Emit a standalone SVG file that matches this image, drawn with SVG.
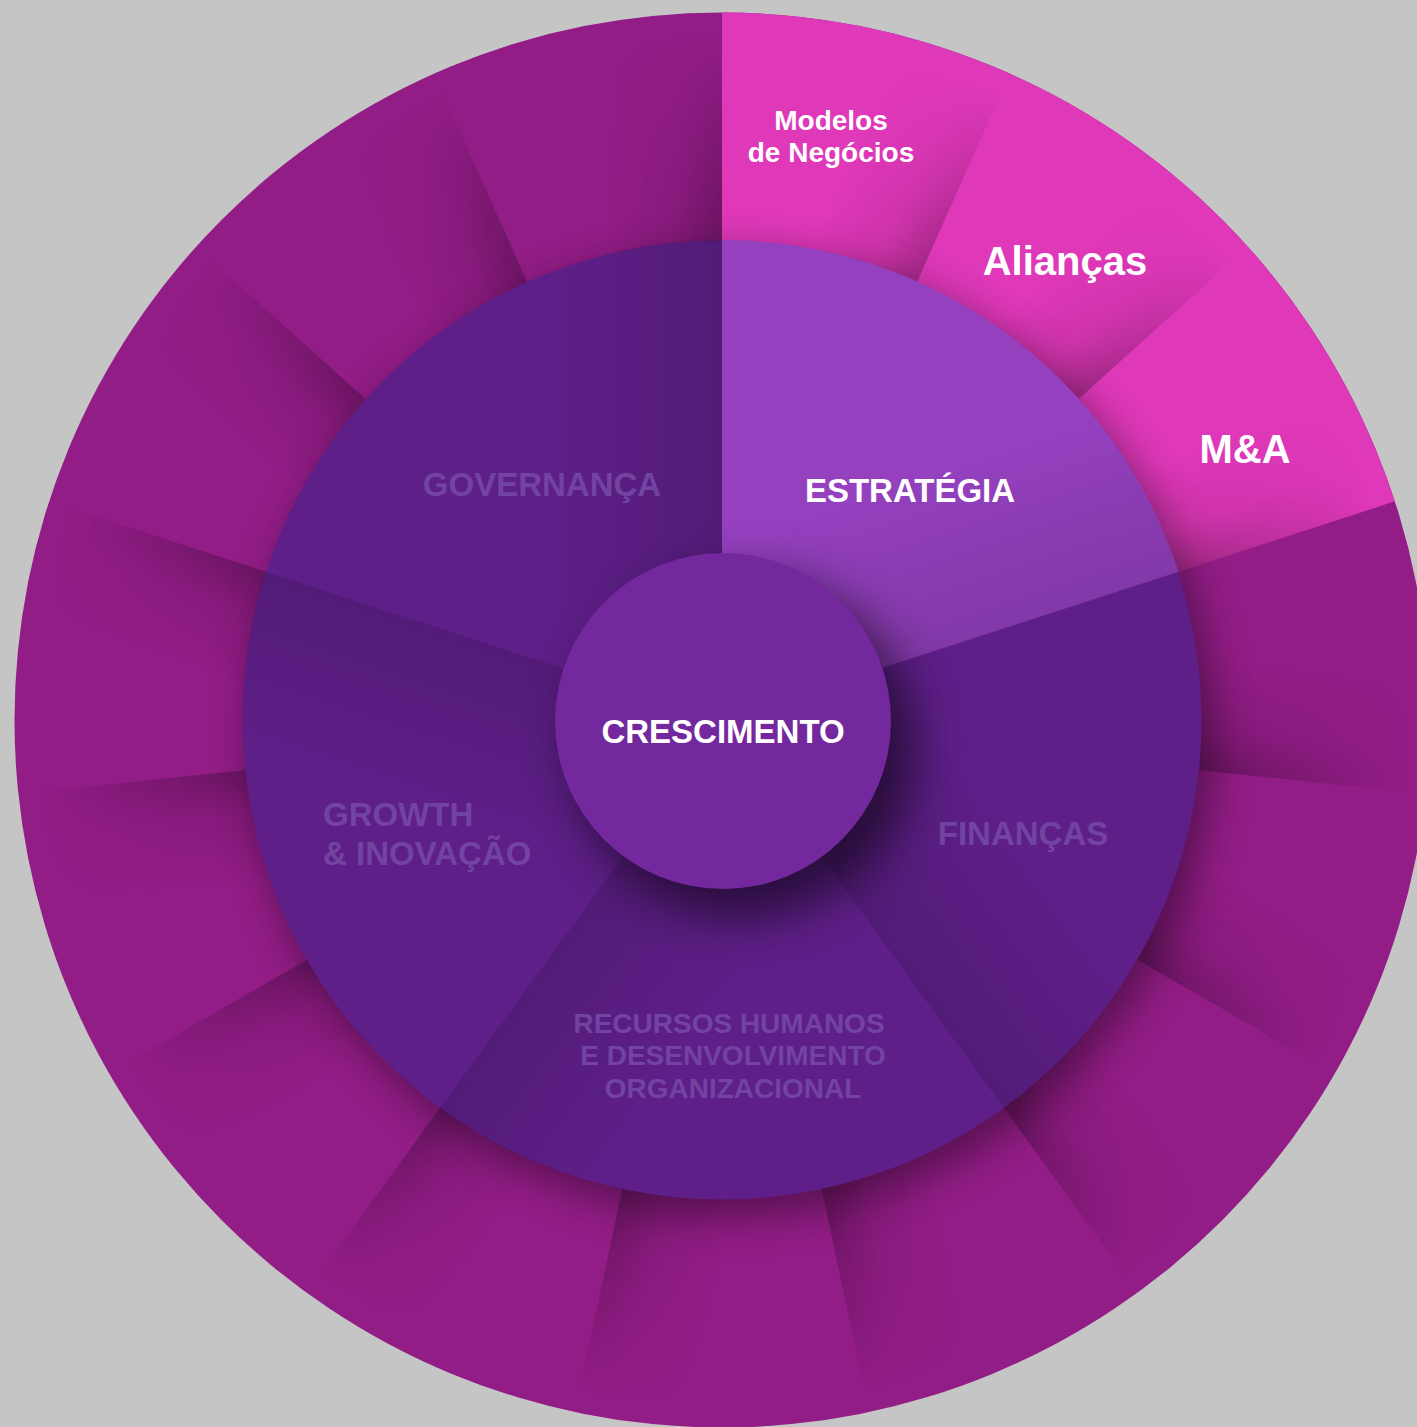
<svg xmlns="http://www.w3.org/2000/svg" width="1417" height="1427" viewBox="0 0 1417 1427">
<defs>
<style>
.lbl{font-family:"Liberation Sans",Arial,Helvetica,sans-serif;font-weight:bold;text-anchor:middle}
.w{fill:#ffffff}
.dim{fill:#7243a0}
.mag{fill:#921d86}
.pink{fill:#df38b9}
.mid{fill:#5e1f88}
.str{fill:#9440bf}
.ctr{fill:#74289e}
.eo{fill:url(#edgeO)}
.em{fill:url(#edgeM)}
</style>
<path id="w24" d="M0,0 L0,-708 A708,708 0 0,0 -287.97,-646.79 Z"/>
<path id="w72" d="M0,0 L0,-480 A480,480 0 0,0 -456.51,-148.33 Z"/>
<linearGradient id="edgeO" gradientUnits="userSpaceOnUse" x1="-110" y1="0" x2="0" y2="0">
<stop offset="0" stop-color="#000" stop-opacity="0"/>
<stop offset="0.6" stop-color="#000" stop-opacity="0.08"/>
<stop offset="1" stop-color="#000" stop-opacity="0.24"/>
</linearGradient>
<linearGradient id="edgeM" gradientUnits="userSpaceOnUse" x1="-170" y1="0" x2="0" y2="0">
<stop offset="0" stop-color="#000" stop-opacity="0"/>
<stop offset="1" stop-color="#000" stop-opacity="0.12"/>
</linearGradient>
<radialGradient id="fadeG" gradientUnits="userSpaceOnUse" cx="0" cy="0" r="708">
<stop offset="0" stop-color="#fff"/>
<stop offset="0.72" stop-color="#fff"/>
<stop offset="0.97" stop-color="#000"/>
</radialGradient>
<mask id="fade" maskUnits="userSpaceOnUse" x="-720" y="-720" width="1440" height="1440">
<circle cx="0" cy="0" r="710" fill="url(#fadeG)"/>
</mask>
<filter id="soft" x="-50%" y="-50%" width="200%" height="200%"><feGaussianBlur stdDeviation="20"/></filter>
<filter id="soft2" x="-50%" y="-50%" width="200%" height="200%"><feGaussianBlur stdDeviation="24"/></filter>
</defs>
<rect x="0" y="0" width="1417" height="1427" fill="#c6c5c6"/>

<g id="outer-ring">
<circle cx="722" cy="720" r="707.5" class="mag"/>
<path class="pink" d="M722,720 L722,12.5 A707.5,707.5 0 0,1 1394.87,501.37 Z"/>
<g id="seg-modelos-negocios"><g transform="translate(722,720) rotate(24)"><use href="#w24" class="eo" mask="url(#fade)"/></g>
<text class="lbl w" font-size="28" x="831" y="130">Modelos</text><text class="lbl w" font-size="28" x="831" y="162">de Negócios</text></g>
<g id="seg-aliancas"><g transform="translate(722,720) rotate(48)"><use href="#w24" class="eo" mask="url(#fade)"/></g>
<text class="lbl w" font-size="40" x="1065" y="275">Alianças</text></g>
<g id="seg-ma"><g transform="translate(722,720) rotate(72)"><use href="#w24" class="eo" mask="url(#fade)"/></g>
<text class="lbl w" font-size="40" x="1245" y="463">M&amp;A</text></g>
<g id="seg-04"><g transform="translate(722,720) rotate(96)"><use href="#w24" class="eo" mask="url(#fade)"/></g></g>
<g id="seg-05"><g transform="translate(722,720) rotate(120)"><use href="#w24" class="eo" mask="url(#fade)"/></g></g>
<g id="seg-06"><g transform="translate(722,720) rotate(144)"><use href="#w24" class="eo" mask="url(#fade)"/></g></g>
<g id="seg-07"><g transform="translate(722,720) rotate(168)"><use href="#w24" class="eo" mask="url(#fade)"/></g></g>
<g id="seg-08"><g transform="translate(722,720) rotate(192)"><use href="#w24" class="eo" mask="url(#fade)"/></g></g>
<g id="seg-09"><g transform="translate(722,720) rotate(216)"><use href="#w24" class="eo" mask="url(#fade)"/></g></g>
<g id="seg-10"><g transform="translate(722,720) rotate(240)"><use href="#w24" class="eo" mask="url(#fade)"/></g></g>
<g id="seg-11"><g transform="translate(722,720) rotate(264)"><use href="#w24" class="eo" mask="url(#fade)"/></g></g>
<g id="seg-12"><g transform="translate(722,720) rotate(288)"><use href="#w24" class="eo" mask="url(#fade)"/></g></g>
<g id="seg-13"><g transform="translate(722,720) rotate(312)"><use href="#w24" class="eo" mask="url(#fade)"/></g></g>
<g id="seg-14"><g transform="translate(722,720) rotate(336)"><use href="#w24" class="eo" mask="url(#fade)"/></g></g>
<g id="seg-15"><g transform="translate(722,720) rotate(360)"><use href="#w24" class="eo" mask="url(#fade)"/></g></g>
</g>

<circle cx="732" cy="734" r="482" fill="#000" opacity="0.4" filter="url(#soft)"/>

<g id="middle-ring">
<circle cx="722" cy="720" r="479.5" class="mid"/>
<g id="seg-estrategia"><g transform="translate(722,720) rotate(72)"><use href="#w72" class="str"/><use href="#w72" class="em"/></g>
<text class="lbl w" font-size="33" x="910" y="502">ESTRATÉGIA</text></g>
<g id="seg-financas"><g transform="translate(722,720) rotate(144)"><use href="#w72" class="em"/></g>
<text class="lbl dim" font-size="33" x="1023" y="845">FINANÇAS</text></g>
<g id="seg-recursos-humanos"><g transform="translate(722,720) rotate(216)"><use href="#w72" class="em"/></g>
<text class="lbl dim" font-size="28" x="729" y="1033">RECURSOS HUMANOS</text>
<text class="lbl dim" font-size="28" x="733" y="1065">E DESENVOLVIMENTO</text>
<text class="lbl dim" font-size="28" x="733" y="1098">ORGANIZACIONAL</text></g>
<g id="seg-growth-inovacao"><g transform="translate(722,720) rotate(288)"><use href="#w72" class="em"/></g>
<text class="lbl dim" font-size="33" x="323" y="826" style="text-anchor:start">GROWTH</text>
<text class="lbl dim" font-size="33" x="323" y="865" style="text-anchor:start">&amp; INOVAÇÃO</text></g>
<g id="seg-governanca"><g transform="translate(722,720) rotate(360)"><use href="#w72" class="em"/></g>
<text class="lbl dim" font-size="33" x="542" y="496">GOVERNANÇA</text></g>
</g>

<circle cx="744" cy="746" r="172" fill="#000" opacity="0.55" filter="url(#soft2)"/>

<g id="center-crescimento">
<circle cx="723" cy="721" r="168" class="ctr"/>
<text class="lbl w" font-size="33" x="723" y="743">CRESCIMENTO</text>
</g>

<g id="connectors"/>
</svg>
